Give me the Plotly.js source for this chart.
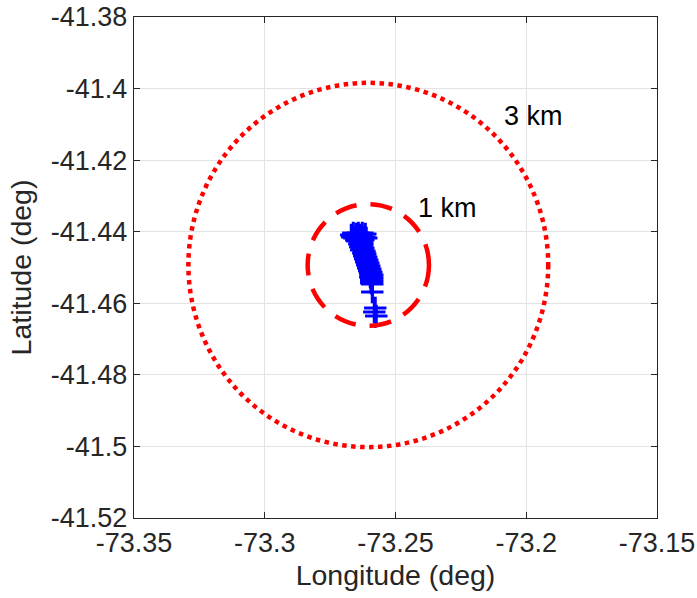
<!DOCTYPE html>
<html>
<head>
<meta charset="utf-8">
<script src="https://cdn.plot.ly/plotly-3.0.1.min.js"></script>
<style>html,body{margin:0;padding:0;background:#fff;}#chart{width:697px;height:598px;}</style>
</head>
<body>
<div id="chart"></div>
<script>
// Track (longitude / latitude, deg)
var trackLon = [-73.26614,-73.26423,-73.26270,-73.26156,-73.26500,-73.26691,-73.26347,-73.26500,-73.26309,-73.26194,
  -73.26653,-73.26576,-73.26118,-73.26385,-73.26232,-73.26500,-73.26461,-73.26309,-73.26270,-73.26385,
  -73.26270,-73.26309,-73.26347,-73.26232,-73.26270,-73.26309,-73.26194,-73.26194,-73.26232,-73.26156,
  -73.26194,-73.26194,-73.26118,-73.26156,-73.26156,-73.26079,-73.26118,-73.26118,-73.26041,-73.26079,
  -73.26079,-73.26003,-73.26041,-73.26041,-73.25965,-73.26003,-73.26003,-73.25927,-73.25965,-73.25965,
  -73.25888,-73.25927,-73.25965,-73.25888,-73.25927,-73.25927,-73.25888,-73.25927,-73.25927,-73.25888,
  -73.25888,-73.25774,-73.25812,-73.25735,-73.25774];
var trackLat = [-41.44036,-41.44036,-41.44036,-41.44064,-41.44064,-41.44092,-41.44092,-41.44120,-41.44120,-41.44148,
  -41.44148,-41.44176,-41.44176,-41.44204,-41.44232,-41.44232,-41.44259,-41.44287,-41.44315,-41.44343,
  -41.44371,-41.44399,-41.44427,-41.44455,-41.44483,-41.44511,-41.44539,-41.44567,-41.44595,-41.44623,
  -41.44651,-41.44679,-41.44707,-41.44735,-41.44762,-41.44790,-41.44818,-41.44846,-41.44874,-41.44902,
  -41.44930,-41.44958,-41.44986,-41.45014,-41.45042,-41.45070,-41.45098,-41.45126,-41.45154,-41.45182,
  -41.45210,-41.45238,-41.45265,-41.45293,-41.45321,-41.45349,-41.45377,-41.45405,-41.45433,-41.45461,
  -41.45685,-41.46132,-41.46244,-41.46355,-41.46691];

// Range rings
var ringLabels = ['1 km', '3 km'];
var ringCenterLon = -73.2604;
var ringCenterLat = -41.4493;
var ringRadiusLon = [0.0232, 0.0688];
var ringRadiusLat = [0.0170, 0.0509];
var ringLabelLon = [-73.2423, -73.2094];
var ringLabelLat = [-41.4334, -41.4077];

// Ticks
var xTickVals = [-73.35, -73.3, -73.25, -73.2, -73.15];
var xTickText = ['-73.35', '-73.3', '-73.25', '-73.2', '-73.15'];
var yTickVals = [-41.52, -41.5, -41.48, -41.46, -41.44, -41.42, -41.4, -41.38];
var yTickText = ['-41.52', '-41.5', '-41.48', '-41.46', '-41.44', '-41.42', '-41.4', '-41.38'];

var FONT = '"Liberation Sans", Arial, Helvetica, sans-serif';
var dashStyles = ['22px,14px', 'dot'];

var shapes = ringLabels.map(function (lab, i) {
  return {
    type: 'circle', xref: 'x', yref: 'y', layer: 'above',
    x0: ringCenterLon - ringRadiusLon[i], x1: ringCenterLon + ringRadiusLon[i],
    y0: ringCenterLat - ringRadiusLat[i], y1: ringCenterLat + ringRadiusLat[i],
    line: { color: '#ff0000', width: 4.5, dash: dashStyles[i] }
  };
});

var annotations = ringLabels.map(function (lab, i) {
  return {
    x: ringLabelLon[i], y: ringLabelLat[i], xref: 'x', yref: 'y',
    text: lab, showarrow: false, xanchor: 'left', yanchor: 'middle',
    font: { family: FONT, size: 27, color: '#000000' }
  };
});

var markerSizes = trackLon.map(function (v, i) { return i === trackLon.length - 1 ? 0 : 16; });

var traces = [{
  type: 'scatter', mode: 'lines+markers', x: trackLon, y: trackLat,
  line: { color: '#0000ff', width: 2 },
  marker: { symbol: 'cross-thin', size: markerSizes, opacity: 1, line: { color: '#0000ff', width: 3 } },
  hoverinfo: 'x+y', showlegend: false
}];

var axisCommon = {
  showgrid: true, gridcolor: '#e3e3e3', gridwidth: 1,
  zeroline: false, showline: true, mirror: 'ticks', linecolor: '#262626', linewidth: 1.2,
  ticks: 'inside', ticklen: 6, tickwidth: 1, tickcolor: '#262626',
  tickmode: 'array', tickfont: { family: FONT, size: 27, color: '#262626' }
};

var layout = {
  width: 697, height: 598,
  margin: { l: 133.5, r: 40, t: 17, b: 80 },
  paper_bgcolor: '#ffffff', plot_bgcolor: '#ffffff',
  showlegend: false,
  xaxis: Object.assign({}, axisCommon, {
    range: [-73.35, -73.15], tickvals: xTickVals, ticktext: xTickText,
    title: { text: 'Longitude (deg)', font: { family: FONT, size: 28.5, color: '#262626' }, standoff: 8 }
  }),
  yaxis: Object.assign({}, axisCommon, {
    range: [-41.52, -41.38], tickvals: yTickVals, ticktext: yTickText,
    title: { text: 'Latitude (deg)', font: { family: FONT, size: 28.5, color: '#262626' }, standoff: 10 }
  }),
  shapes: shapes,
  annotations: annotations
};

Plotly.newPlot('chart', traces, layout, { displayModeBar: false, staticPlot: true });
</script>
</body>
</html>
